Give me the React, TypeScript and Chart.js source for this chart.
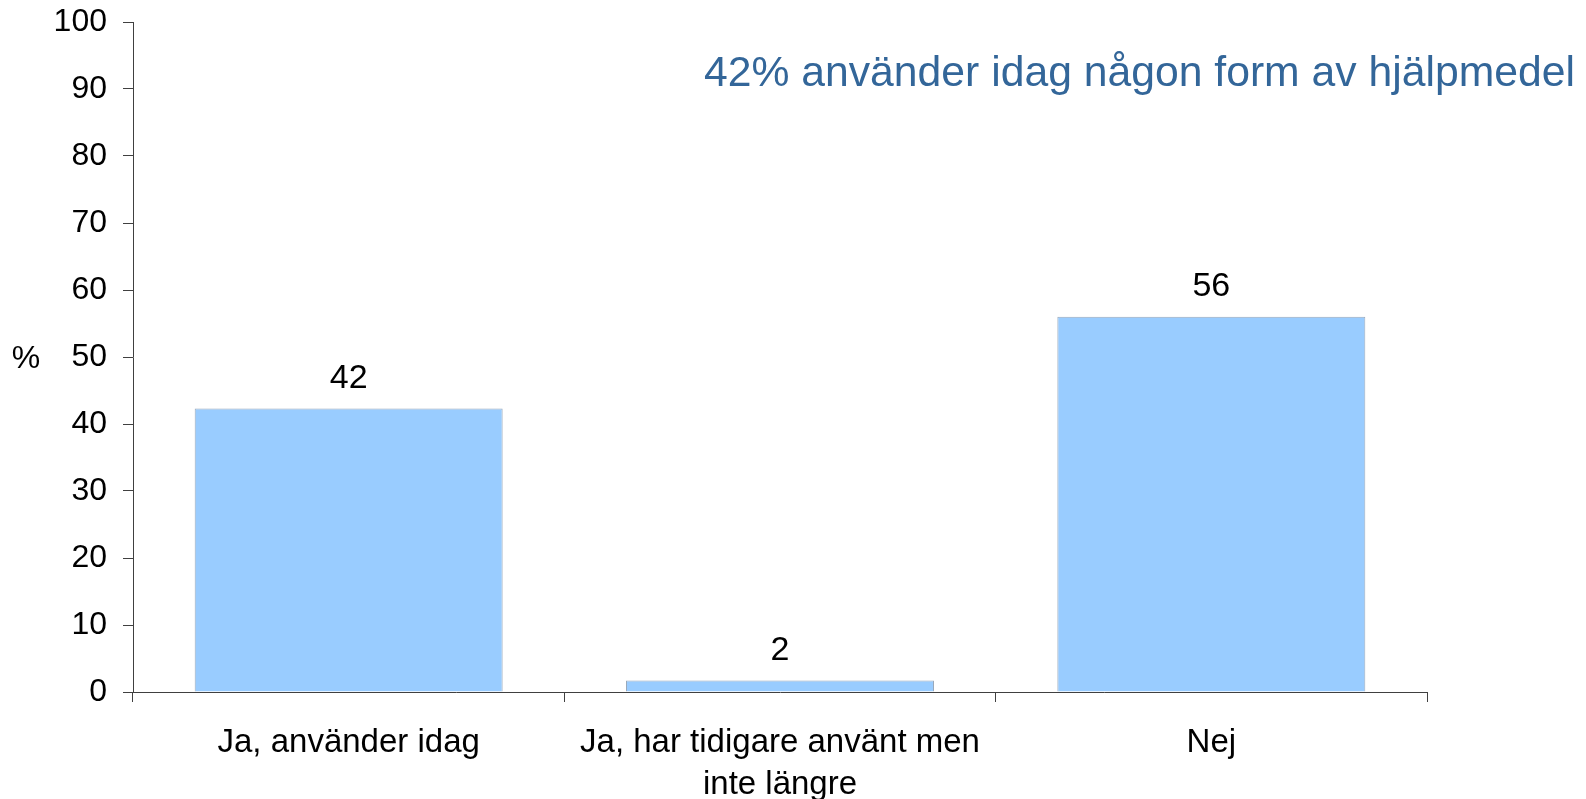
import React, { useEffect, useRef } from "react";
import { Chart, registerables } from "chart.js";

Chart.register(...registerables);

const categories: (string | string[])[] = [
  "Ja, använder idag",
  ["Ja, har tidigare använt men", "inte längre"],
  "Nej",
];
const values: number[] = [42.3, 1.7, 56.0];
const valueLabels: string[] = ["42", "2", "56"];
const yTicks: number[] = [0, 10, 20, 30, 40, 50, 60, 70, 80, 90, 100];
const titleText = "42% använder idag någon form av hjälpmedel";
const unitText = "%";

const FONT = "'Liberation Sans', Arial, sans-serif";

const overlayPlugin = {
  id: "overlayText",
  afterDatasetsDraw(chart: any) {
    const ctx = chart.ctx;
    const meta = chart.getDatasetMeta(0);
    ctx.save();
    ctx.fillStyle = "#000000";
    ctx.font = `34px ${FONT}`;
    ctx.textAlign = "center";
    ctx.textBaseline = "alphabetic";
    meta.data.forEach((bar: any, i: number) => {
      ctx.fillText(valueLabels[i], bar.x, bar.y - 21);
    });
    // unit label
    const yScale = chart.scales.y;
    ctx.font = `32px ${FONT}`;
    ctx.fillText(unitText, 26, yScale.getPixelForValue(50) + 11);
    // title
    ctx.fillStyle = "#336699";
    ctx.font = `42.7px ${FONT}`;
    ctx.textAlign = "left";
    ctx.fillText(titleText, 704, 86);
    ctx.restore();
  },
};

export default function App() {
  const ref = useRef<HTMLCanvasElement | null>(null);
  useEffect(() => {
    if (!ref.current) return;
    const chart = new Chart(ref.current, {
      type: "bar",
      data: {
        labels: categories as any,
        datasets: [
          {
            data: values,
            backgroundColor: "#99CCFF",
            borderColor: "#98a8ba",
            borderWidth: 1,
            categoryPercentage: 1,
            barPercentage: 0.714,
          },
        ],
      },
      options: {
        responsive: false,
        animation: false,
        devicePixelRatio: 1,
        layout: { padding: { left: 0, top: 22, right: 159, bottom: 0 } },
        plugins: {
          legend: { display: false },
          tooltip: { enabled: false },
          title: { display: false },
        },
        scales: {
          x: {
            z: 1,
            grid: {
              display: true,
              offset: true,
              drawOnChartArea: false,
              drawTicks: true,
              tickLength: 10,
              color: "#404040",
            },
            border: { display: true, color: "#404040", width: 1 },
            ticks: {
              color: "#000000",
              font: { family: FONT, size: 33, lineHeight: 1.3 },
              padding: 19,
              maxRotation: 0,
              autoSkip: false,
            },
            afterFit(scale: any) {
              scale.height = 107;
              scale.paddingLeft = 0;
              scale.paddingRight = 0;
            },
          },
          y: {
            z: 1,
            min: 0,
            max: 100,
            afterBuildTicks(scale: any) {
              scale.ticks = yTicks.map((v) => ({ value: v }));
            },
            grid: {
              display: true,
              drawOnChartArea: false,
              drawTicks: true,
              tickLength: 10,
              color: "#404040",
            },
            border: { display: true, color: "#404040", width: 1 },
            ticks: {
              color: "#000000",
              font: { family: FONT, size: 32 },
              padding: 16,
            },
            afterFit(scale: any) {
              scale.width = 133;
              scale.paddingTop = 0;
              scale.paddingBottom = 0;
            },
          },
        },
      },
      plugins: [overlayPlugin],
    });
    return () => chart.destroy();
  }, []);
  return (
    <div style={{ position: "fixed", left: 0, top: 0, width: 1586, height: 799, background: "#ffffff" }}>
      <canvas ref={ref} width={1586} height={799} style={{ width: 1586, height: 799, display: "block" }} />
    </div>
  );
}
